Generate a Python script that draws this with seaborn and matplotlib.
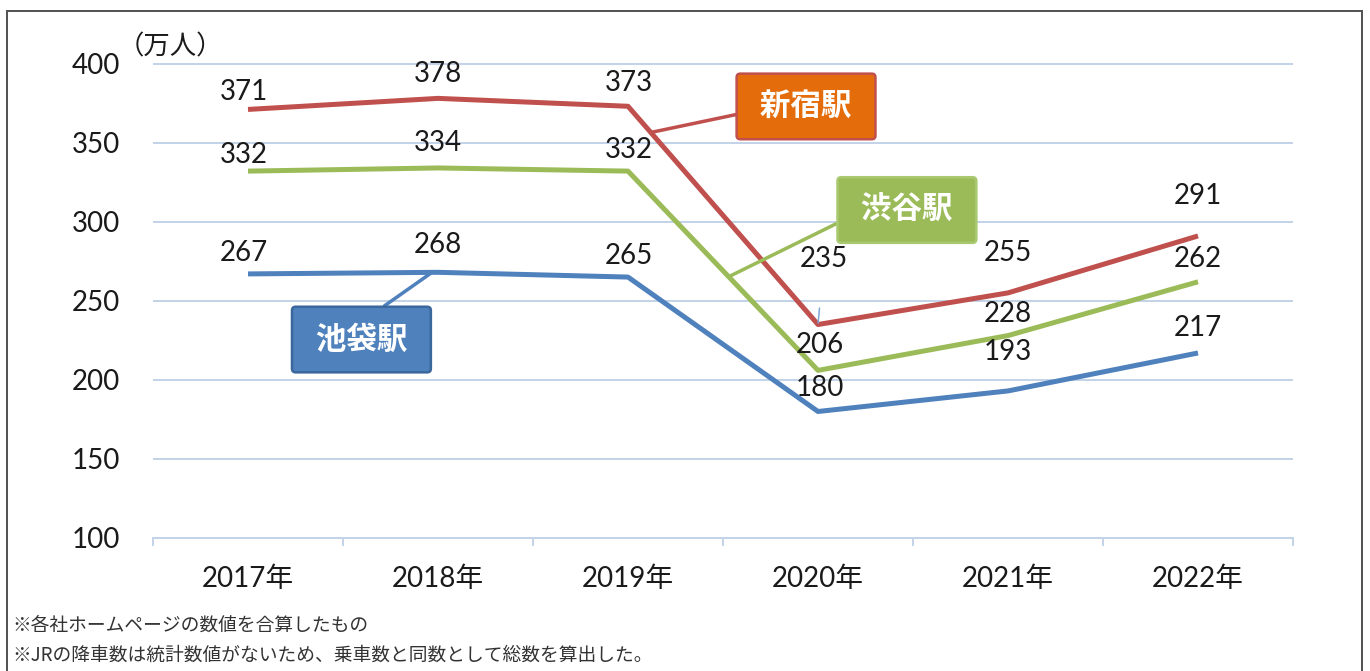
import numpy as np
import pandas as pd
import matplotlib
matplotlib.use("Agg")
import matplotlib.pyplot as plt
import seaborn as sns
from matplotlib.patches import Rectangle

# ---------------- data ----------------
years = ["2017年", "2018年", "2019年", "2020年", "2021年", "2022年"]
shinjuku = [371, 378, 373, 235, 255, 291]
shibuya = [332, 334, 332, 206, 228, 262]
ikebukuro = [267, 268, 265, 180, 193, 217]
stations = ["新宿駅", "渋谷駅", "池袋駅"]
y_ticks = [100, 150, 200, 250, 300, 350, 400]
unit_label = "（万人）"
notes = ["※各社ホームページの数値を合算したもの",
         "※JRの降車数は統計数値がないため、乗車数と同数として総数を算出した。"]

# ---------------- style ----------------
sns.set_theme(style="white")
plt.rcParams['font.family'] = ['Lato', 'Noto Sans CJK JP', 'DejaVu Sans']

DPI = 100
W, H = 1370, 671
PT = 72 / DPI  # px -> pt

colors = {"新宿駅": "#c0504d", "渋谷駅": "#9bbb59", "池袋駅": "#4f81bd"}
grid_c = "#c3d4e9"
text_c = "#1a1a1a"

fig = plt.figure(figsize=(W / DPI, H / DPI), dpi=DPI)
ax = fig.add_axes([153 / W, 1 - 538 / H, 1140 / W, (538 - 62) / H])

series = {"新宿駅": shinjuku, "渋谷駅": shibuya, "池袋駅": ikebukuro}
df = pd.DataFrame({
    "pos": list(range(len(years))) * len(stations),
    "value": shinjuku + shibuya + ikebukuro,
    "station": [s for s in stations for _ in years],
})

sns.lineplot(data=df, x="pos", y="value", hue="station", palette=colors,
             linewidth=5 * PT, legend=False, ax=ax, sort=False,
             solid_joinstyle="round", solid_capstyle="butt", zorder=3)

ax.set_xlim(-0.5, len(years) - 0.5)
ax.set_ylim(100, 401)
ax.set_yticks(y_ticks)
ax.set_xticks(range(len(years)))
ax.set_xticklabels(years)
ax.set_xticks(np.arange(-0.5, len(years), 1), minor=True)
ax.set_xlabel("")
ax.set_ylabel("")

ax.yaxis.grid(True, color=grid_c, linewidth=2 * PT)
ax.xaxis.grid(False)
for s in ["left", "right", "top"]:
    ax.spines[s].set_visible(False)
ax.spines["bottom"].set_color(grid_c)
ax.spines["bottom"].set_linewidth(2 * PT)

ax.tick_params(axis="x", which="major", length=0, pad=20, labelsize=20, labelcolor=text_c)
ax.tick_params(axis="x", which="minor", bottom=True, length=8 * PT, width=2 * PT,
               color=grid_c, direction="out")
ax.tick_params(axis="y", length=0, pad=24, labelsize=20, labelcolor=text_c)

# ---------------- data labels ----------------
label_dy = {"新宿駅": [17, 24, 23, 66, 40, 40],
            "渋谷駅": [16, 25, 21, 25, 22, 23],
            "池袋駅": [21, 27, 21, 23, 39, 25]}
label_dx = [-4, 0, 1, 2, 0, 0]

for st in stations:
    vals = series[st]
    for i, v in enumerate(vals):
        kw = {}
        dx = label_dx[i]
        if st == "新宿駅" and i == 3:
            dx = 6
            kw = dict(arrowprops=dict(arrowstyle="-", color="#7aa6d6", lw=1.5 * PT,
                                      shrinkA=24, shrinkB=1))
        ax.annotate(str(v), xy=(i, v), xytext=(dx * PT, label_dy[st][i] * PT),
                    textcoords="offset points", ha="center", va="center",
                    fontsize=20, color=text_c, zorder=5, **kw)

# ---------------- callout boxes ----------------
def on_seg(vals, i, f):
    return (i + f, vals[i] + f * (vals[i + 1] - vals[i]))

callouts = [
    ("新宿駅", on_seg(shinjuku, 2, 0.12), (2.937, 372.9), "#e46c0a", "#c0504d", (0.0, 0.36)),
    ("渋谷駅", on_seg(shibuya, 2, 0.53), (3.468, 307.4), "#9bbb59", "#a9c970", (0.0, 0.35)),
    ("池袋駅", on_seg(ikebukuro, 1, -0.03), (0.597, 225.5), "#4f81bd", "#3a679c", (0.48, 1.0)),
]
for name, xy, xyt, fc, ec, rel in callouts:
    ax.annotate(" " + name + " ", xy=xy, xytext=xyt, textcoords="data",
                ha="center", va="center", fontsize=22, color="white",
                family=["Noto Sans CJK JP"], weight="bold", zorder=6,
                bbox=dict(boxstyle="round,pad=0.55,rounding_size=0.12", fc=fc, ec=ec,
                          lw=2.5 * PT),
                arrowprops=dict(arrowstyle="-", color=colors[name], lw=3.5 * PT,
                                shrinkA=0, shrinkB=0, relpos=rel))

# ---------------- unit label, notes, border ----------------
fig.text(118 / W, 1 - 47 / H, unit_label, fontsize=19, color=text_c,
         family=["Noto Sans CJK JP"], ha="left", va="center")

fig.text(12 / W, 1 - 625 / H, notes[0], fontsize=13.5, color="#333333",
         family=["Noto Sans CJK JP"], ha="left", va="center")
fig.text(12 / W, 1 - 655 / H, notes[1], fontsize=13.5, color="#333333",
         family=["Noto Sans CJK JP"], ha="left", va="center")

fig.patches.append(Rectangle((7 / W, -0.05), (1362 - 7) / W, (H - 11) / H + 0.05,
                             transform=fig.transFigure, fill=False,
                             ec="#555555", lw=2 * PT, zorder=0))

fig.savefig("out.png", dpi=DPI)
